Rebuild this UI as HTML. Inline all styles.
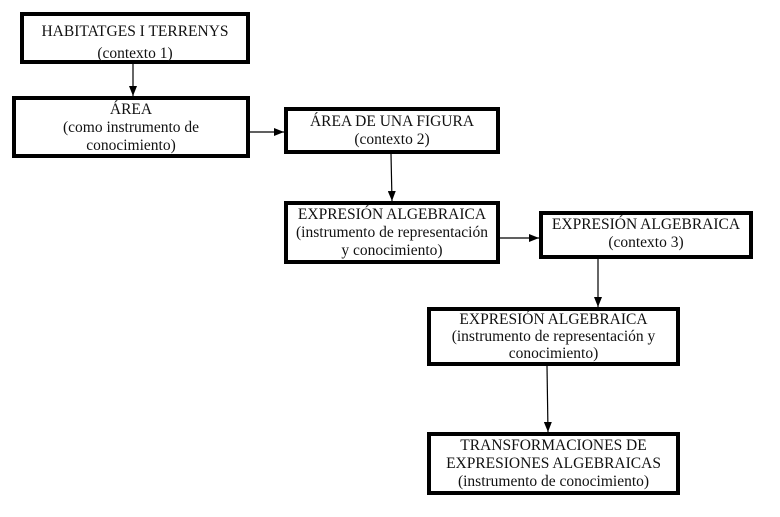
<!DOCTYPE html>
<html><head><meta charset="utf-8"><style>
body{margin:0;width:780px;height:517px;background:#fff;position:relative;overflow:hidden;font-family:"Liberation Serif",serif;font-size:15.5px;color:#111}
.b{position:absolute;box-sizing:border-box;border:4px solid #000;display:flex;flex-direction:column;align-items:center;justify-content:flex-start;text-align:center;line-height:18px;white-space:nowrap}
svg{position:absolute;left:0;top:0}
</style></head><body>
<svg width="780" height="517">
<defs><marker id="a" markerWidth="10" markerHeight="8" refX="10" refY="4" orient="auto" markerUnits="userSpaceOnUse"><path d="M0,0 L10,4 L0,8 z" fill="#000"/></marker></defs>
<g stroke="#000" stroke-width="1.2" fill="none">
<line x1="133" y1="64" x2="133" y2="96" marker-end="url(#a)"/>
<line x1="250" y1="132" x2="284" y2="132" marker-end="url(#a)"/>
<line x1="391" y1="154" x2="392" y2="201" marker-end="url(#a)"/>
<line x1="500" y1="238" x2="539" y2="238" marker-end="url(#a)"/>
<line x1="598" y1="259" x2="598" y2="307" marker-end="url(#a)"/>
<line x1="547" y1="366" x2="548" y2="432" marker-end="url(#a)"/>
</g></svg>
<div class="b" style="left:20px;top:12px;width:230px;height:52px;padding-top:5px;line-height:22px">HABITATGES I TERRENYS<br>(contexto 1)</div>
<div class="b" style="left:12px;top:96px;width:238px;height:62px;padding-top:1px">ÁREA<br>(como instrumento de<br>conocimiento)</div>
<div class="b" style="left:284px;top:107px;width:216px;height:47px;padding-top:2px">ÁREA DE UNA FIGURA<br>(contexto 2)</div>
<div class="b" style="left:284px;top:201px;width:216px;height:63px;padding-top:1px">EXPRESIÓN ALGEBRAICA<br>(instrumento de representación<br>y conocimiento)</div>
<div class="b" style="left:539px;top:211px;width:214px;height:48px;padding-top:1px">EXPRESIÓN ALGEBRAICA<br>(contexto 3)</div>
<div class="b" style="left:427px;top:307px;width:253px;height:59px;padding-top:0;line-height:17px">EXPRESIÓN ALGEBRAICA<br>(instrumento de representación y<br>conocimiento)</div>
<div class="b" style="left:427px;top:432px;width:253px;height:63px;padding-top:1px">TRANSFORMACIONES DE<br>EXPRESIONES ALGEBRAICAS<br>(instrumento de conocimiento)</div>
</body></html>
